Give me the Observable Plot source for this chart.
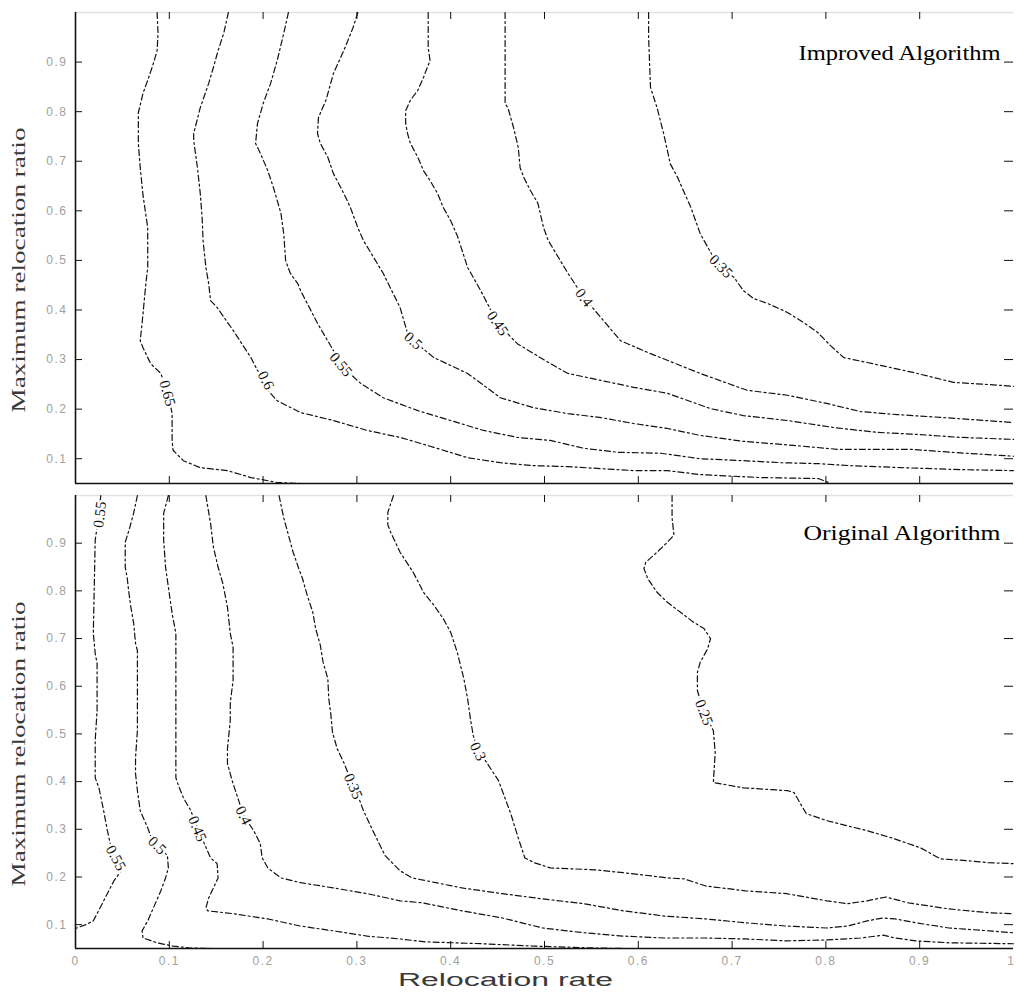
<!DOCTYPE html>
<html><head><meta charset="utf-8">
<script src="https://cdn.jsdelivr.net/npm/d3@7"></script>
<script src="https://cdn.jsdelivr.net/npm/@observablehq/plot@0.6"></script>
<style>
body{margin:0;background:#fff;}
#wrap{position:relative;width:1016px;height:992px;overflow:hidden;background:#fff;}
#top{position:absolute;left:0;top:0;}
#bottom{position:absolute;left:0;top:490px;}
#wrap g[aria-label="y-axis tick label"], #wrap g[aria-label="x-axis tick label"]{fill:#a0a0a0;letter-spacing:1.5px;}
</style></head><body><div id="wrap"><div id="top"></div><div id="bottom"></div></div>
<script>
// ---------- Data: contour lines, [relocation rate, maximum relocation ratio] ----------
const xTickValues = [0,0.1,0.2,0.3,0.4,0.5,0.6,0.7,0.8,0.9,1];
const yTickValues = [0.1,0.2,0.3,0.4,0.5,0.6,0.7,0.8,0.9];

// Improved Algorithm
const improved065 = [[0.087,1.0],[0.088,0.958],[0.087,0.923],[0.083,0.897],[0.078,0.869],[0.072,0.837],[0.067,0.798],[0.067,0.736],[0.069,0.687],[0.072,0.631],[0.077,0.566],[0.077,0.486],[0.075,0.453],[0.071,0.373],[0.069,0.338],[0.072,0.324],[0.080,0.292],[0.091,0.272],[0.099,0.228],[0.103,0.191],[0.103,0.137],[0.104,0.117],[0.115,0.096],[0.133,0.082],[0.162,0.076],[0.187,0.062],[0.215,0.052],[0.240,0.050]];
const improved060 = [[0.163,1.0],[0.158,0.958],[0.152,0.923],[0.147,0.889],[0.142,0.857],[0.133,0.808],[0.126,0.756],[0.126,0.742],[0.130,0.687],[0.133,0.635],[0.135,0.587],[0.136,0.540],[0.139,0.486],[0.142,0.453],[0.144,0.419],[0.151,0.405],[0.168,0.359],[0.187,0.304],[0.194,0.278],[0.203,0.258],[0.205,0.238],[0.215,0.217],[0.240,0.193],[0.275,0.177],[0.311,0.157],[0.346,0.143],[0.382,0.123],[0.418,0.102],[0.453,0.092],[0.488,0.086],[0.525,0.084],[0.560,0.080],[0.595,0.076],[0.631,0.076],[0.666,0.068],[0.730,0.062],[0.792,0.060],[0.805,0.050]];
const improved055 = [[0.227,1.0],[0.222,0.958],[0.215,0.903],[0.208,0.857],[0.200,0.816],[0.194,0.776],[0.192,0.736],[0.197,0.716],[0.205,0.681],[0.211,0.647],[0.215,0.621],[0.219,0.595],[0.222,0.554],[0.224,0.500],[0.229,0.474],[0.237,0.453],[0.240,0.439],[0.258,0.373],[0.275,0.318],[0.283,0.288],[0.304,0.252],[0.328,0.223],[0.365,0.197],[0.400,0.177],[0.435,0.157],[0.471,0.143],[0.506,0.137],[0.542,0.121],[0.578,0.113],[0.624,0.111],[0.666,0.100],[0.712,0.096],[0.752,0.092],[0.792,0.090],[0.826,0.086],[0.880,0.082],[0.943,0.078],[1.0,0.076]];
const improved050 = [[0.301,1.0],[0.296,0.970],[0.286,0.923],[0.275,0.877],[0.267,0.823],[0.259,0.788],[0.258,0.756],[0.261,0.736],[0.269,0.708],[0.275,0.675],[0.286,0.635],[0.293,0.607],[0.301,0.566],[0.307,0.540],[0.328,0.474],[0.346,0.405],[0.354,0.353],[0.360,0.338],[0.382,0.304],[0.418,0.272],[0.453,0.223],[0.488,0.203],[0.525,0.191],[0.560,0.183],[0.595,0.171],[0.631,0.161],[0.666,0.147],[0.712,0.135],[0.765,0.127],[0.812,0.119],[0.890,0.119],[0.933,0.113],[1.0,0.105]];
const improved045 = [[0.376,1.0],[0.376,0.929],[0.378,0.903],[0.375,0.889],[0.371,0.869],[0.365,0.843],[0.357,0.823],[0.352,0.802],[0.352,0.776],[0.354,0.756],[0.357,0.736],[0.365,0.708],[0.371,0.681],[0.378,0.661],[0.386,0.635],[0.392,0.607],[0.400,0.580],[0.407,0.550],[0.418,0.486],[0.432,0.439],[0.450,0.373],[0.471,0.332],[0.506,0.292],[0.525,0.272],[0.560,0.258],[0.595,0.244],[0.631,0.232],[0.677,0.201],[0.712,0.187],[0.759,0.177],[0.808,0.163],[0.855,0.153],[0.898,0.149],[0.943,0.143],[1.0,0.139]];
const improved040 = [[0.458,1.0],[0.458,0.816],[0.461,0.808],[0.467,0.768],[0.472,0.728],[0.474,0.687],[0.478,0.667],[0.485,0.641],[0.493,0.615],[0.499,0.566],[0.504,0.540],[0.525,0.474],[0.542,0.425],[0.560,0.385],[0.581,0.338],[0.613,0.312],[0.666,0.272],[0.716,0.238],[0.759,0.228],[0.802,0.211],[0.837,0.195],[0.876,0.189],[0.925,0.183],[1.0,0.173]];
const improved035 = [[0.611,1.0],[0.611,0.950],[0.613,0.849],[0.620,0.808],[0.627,0.756],[0.631,0.722],[0.634,0.695],[0.642,0.667],[0.648,0.641],[0.656,0.607],[0.666,0.554],[0.679,0.510],[0.691,0.480],[0.702,0.466],[0.712,0.439],[0.723,0.423],[0.738,0.413],[0.759,0.395],[0.776,0.375],[0.791,0.355],[0.805,0.328],[0.819,0.304],[0.844,0.294],[0.893,0.274],[0.936,0.254],[0.986,0.248],[1.0,0.246]];
const improvedLabels = [
  {level:"0.65", x:0.098, y:0.232},
  {level:"0.6",  x:0.203, y:0.258},
  {level:"0.55", x:0.283, y:0.290},
  {level:"0.5",  x:0.360, y:0.338},
  {level:"0.45", x:0.450, y:0.373},
  {level:"0.4",  x:0.542, y:0.425},
  {level:"0.35", x:0.688, y:0.488}
];

// Original Algorithm
const original055 = [[0.027,1.0],[0.023,0.934],[0.021,0.906],[0.019,0.711],[0.021,0.669],[0.023,0.648],[0.023,0.549],[0.021,0.486],[0.021,0.408],[0.025,0.387],[0.030,0.339],[0.034,0.297],[0.037,0.270],[0.043,0.238],[0.051,0.219],[0.041,0.192],[0.030,0.150],[0.019,0.108],[0.011,0.100],[0.0,0.092]];
const original050 = [[0.066,1.0],[0.062,0.963],[0.057,0.927],[0.053,0.902],[0.053,0.850],[0.055,0.829],[0.057,0.795],[0.059,0.766],[0.062,0.732],[0.064,0.690],[0.066,0.675],[0.066,0.507],[0.064,0.450],[0.064,0.417],[0.066,0.381],[0.069,0.339],[0.077,0.303],[0.082,0.276],[0.087,0.266],[0.098,0.245],[0.099,0.219],[0.096,0.198],[0.091,0.171],[0.083,0.135],[0.077,0.108],[0.071,0.087],[0.072,0.072],[0.087,0.062],[0.104,0.055],[0.123,0.051],[0.144,0.050]];
const original045 = [[0.099,1.0],[0.094,0.963],[0.094,0.906],[0.096,0.850],[0.099,0.808],[0.103,0.753],[0.107,0.711],[0.107,0.570],[0.107,0.486],[0.107,0.408],[0.109,0.396],[0.115,0.366],[0.123,0.339],[0.130,0.301],[0.136,0.276],[0.144,0.240],[0.151,0.228],[0.152,0.198],[0.147,0.177],[0.142,0.156],[0.139,0.135],[0.141,0.129],[0.168,0.123],[0.205,0.112],[0.240,0.097],[0.275,0.087],[0.311,0.076],[0.346,0.070],[0.373,0.064],[0.433,0.060],[0.489,0.055],[0.554,0.051],[0.585,0.050]];
const original040 = [[0.139,1.0],[0.141,0.976],[0.144,0.942],[0.147,0.892],[0.152,0.850],[0.157,0.816],[0.162,0.766],[0.165,0.711],[0.168,0.682],[0.168,0.612],[0.165,0.566],[0.165,0.528],[0.162,0.469],[0.162,0.438],[0.167,0.402],[0.174,0.360],[0.179,0.329],[0.190,0.297],[0.197,0.270],[0.199,0.240],[0.205,0.219],[0.219,0.198],[0.240,0.188],[0.275,0.177],[0.311,0.165],[0.346,0.150],[0.369,0.146],[0.412,0.129],[0.455,0.114],[0.498,0.093],[0.542,0.083],[0.584,0.076],[0.628,0.072],[0.672,0.072],[0.714,0.070],[0.758,0.066],[0.801,0.068],[0.837,0.072],[0.861,0.078],[0.874,0.072],[0.896,0.066],[0.931,0.062],[1.0,0.060]];
const original035 = [[0.217,1.0],[0.222,0.953],[0.227,0.917],[0.232,0.881],[0.238,0.847],[0.242,0.826],[0.247,0.791],[0.253,0.755],[0.256,0.721],[0.261,0.686],[0.264,0.650],[0.269,0.616],[0.270,0.574],[0.272,0.545],[0.274,0.503],[0.279,0.469],[0.286,0.440],[0.293,0.406],[0.301,0.371],[0.307,0.339],[0.317,0.297],[0.330,0.245],[0.346,0.213],[0.359,0.198],[0.412,0.177],[0.455,0.165],[0.498,0.154],[0.542,0.144],[0.584,0.129],[0.628,0.118],[0.672,0.112],[0.714,0.104],[0.758,0.097],[0.801,0.093],[0.823,0.097],[0.844,0.108],[0.861,0.114],[0.874,0.112],[0.896,0.104],[0.931,0.093],[0.974,0.087],[1.0,0.083]];
const original030 = [[0.339,1.0],[0.333,0.965],[0.333,0.938],[0.336,0.923],[0.346,0.881],[0.360,0.839],[0.371,0.797],[0.382,0.770],[0.392,0.742],[0.400,0.713],[0.407,0.671],[0.414,0.616],[0.418,0.574],[0.421,0.532],[0.424,0.497],[0.429,0.465],[0.437,0.444],[0.451,0.402],[0.464,0.333],[0.472,0.282],[0.479,0.240],[0.489,0.230],[0.506,0.219],[0.554,0.215],[0.584,0.209],[0.632,0.198],[0.649,0.196],[0.672,0.181],[0.714,0.171],[0.758,0.165],[0.801,0.150],[0.823,0.144],[0.844,0.150],[0.864,0.158],[0.887,0.146],[0.931,0.133],[0.974,0.125],[1.0,0.123]];
const original025 = [[0.636,1.0],[0.636,0.953],[0.638,0.917],[0.631,0.902],[0.620,0.881],[0.608,0.860],[0.606,0.847],[0.610,0.826],[0.620,0.797],[0.631,0.776],[0.645,0.755],[0.659,0.734],[0.670,0.721],[0.677,0.700],[0.674,0.679],[0.666,0.650],[0.663,0.629],[0.663,0.591],[0.670,0.545],[0.680,0.507],[0.682,0.461],[0.680,0.398],[0.712,0.387],[0.759,0.381],[0.766,0.377],[0.779,0.333],[0.801,0.318],[0.844,0.297],[0.870,0.282],[0.901,0.261],[0.922,0.238],[0.952,0.234],[0.973,0.230],[1.0,0.228]];
const originalLabels = [
  {level:"0.55", x:0.026, y:0.960},
  {level:"0.55", x:0.043, y:0.240},
  {level:"0.5",  x:0.087, y:0.266},
  {level:"0.45", x:0.130, y:0.301},
  {level:"0.4",  x:0.179, y:0.329},
  {level:"0.35", x:0.296, y:0.390},
  {level:"0.3",  x:0.429, y:0.463},
  {level:"0.25", x:0.670, y:0.545}
];

const improvedLines = [["0.65",improved065],["0.6",improved060],["0.55",improved055],["0.5",improved050],["0.45",improved045],["0.4",improved040],["0.35",improved035]];
const originalLines = [["0.55",original055],["0.5",original050],["0.45",original045],["0.4",original040],["0.35",original035],["0.3",original030],["0.25",original025]];

// ---------- Drawing ----------
const W = 1016, ML = 75, MR = 3;
const PW = W - ML - MR;
const yDomain = [0.05, 1.0];

function rowsOf(lines){
  return lines.flatMap(([level, pts]) => pts.map(([x,y]) => ({level, x, y})));
}
function labelRows(lines, labels, H){
  const sx = PW, sy = H / (yDomain[1]-yDomain[0]);
  return labels.map(l => {
    let best = null;
    for (const [level, pts] of lines) {
      if (level !== l.level) continue;
      pts.forEach((p, i) => {
        const d = Math.hypot((p[0]-l.x)*sx, (p[1]-l.y)*sy);
        if (!best || d < best.d) best = {d, pts, i};
      });
    }
    const pts = best.pts, i = best.i;
    const a = pts[Math.max(0,i-1)], b = pts[Math.min(pts.length-1,i+1)];
    let ang = Math.atan2(-(b[1]-a[1])*sy, (b[0]-a[0])*sx) * 180/Math.PI;
    if (ang > 90) ang -= 180;
    if (ang < -90) ang += 180;
    return {...l, angle: ang};
  });
}
function fmt(d){ return d === 0 ? "0" : d === 1 ? "1" : d.toFixed(1); }

function panel({lines, labels, title, titleDy, height, marginTop, marginBottom, showX, ylabelDy}){
  const H = height - marginTop - marginBottom;
  const inner = xTickValues.filter(d => d > 0 && d < 1);
  const marks = [
    Plot.ruleY([yDomain[1]], {stroke:"#e2e2e2", strokeWidth:1.5}),
    Plot.line(rowsOf(lines), {x:"x", y:"y", z:"level", stroke:"#111", strokeWidth:1.2, strokeDasharray:"6,3,2,3"}),
    Plot.text(labelRows(lines, labels, H), {x:"x", y:"y", text:"level", rotate:"angle", fontSize:15, fontFamily:"Liberation Serif", fill:"#111", stroke:"white", strokeWidth:5}),
    Plot.ruleX(inner, {insetTop: H-7, stroke:"#111"}),
    Plot.ruleX(inner, {insetBottom: H-7, stroke:"#111"}),
    Plot.ruleY(yTickValues, {insetRight: PW-7, stroke:"#111"}),
    Plot.ruleY(yTickValues, {insetLeft: PW-9, stroke:"#111"}),
    Plot.ruleX([0], {stroke:"#111", strokeWidth:1.6}),
    Plot.ruleY([yDomain[0]], {stroke:"#111", strokeWidth:1.6}),
    Plot.axisY({ticks: yTickValues, tickSize:0, tickPadding:8, tickFormat: fmt, fontSize:12, fill:"#a0a0a0", label:null}),
    Plot.text([title], {frameAnchor:"top-right", textAnchor:"end", lineAnchor:"middle", dx:-13, dy:titleDy, fontSize:22, fontFamily:"Liberation Serif", fill:"#000"}),
    Plot.text(["Maximum relocation ratio"], {frameAnchor:"left", rotate:-90, textAnchor:"middle", lineAnchor:"middle", dx:-56, dy:ylabelDy, fontSize:18, fontFamily:"Liberation Serif", fill:"#3a3a3a"})
  ];
  if (showX) {
    marks.push(Plot.axisX({ticks: xTickValues.filter(d => d < 1), tickSize:0, tickPadding:8, tickFormat: fmt, fontSize:12, fill:"#a0a0a0", label:null}));
    marks.push(Plot.axisX({ticks: [1], tickSize:0, tickPadding:8, tickFormat: fmt, fontSize:12, fill:"#a0a0a0", textAnchor:"end", dx:2, label:null}));
    marks.push(Plot.text(["Relocation rate"], {frameAnchor:"bottom", lineAnchor:"middle", dx:-39, dy:32, fontSize:18, fontFamily:"Liberation Sans", fill:"#3a3a3a"}));
  }
  return Plot.plot({
    width: W, height, marginLeft: ML, marginRight: MR, marginTop, marginBottom,
    style: {fontFamily:"Liberation Sans", background:"white", overflow:"visible"},
    x: {domain:[0,1], label:null, ...(showX ? {} : {axis:null})},
    y: {domain: yDomain, label:null},
    marks
  });
}

const topChart = panel({lines: improvedLines, labels: improvedLabels, title:"Improved Algorithm", titleDy:40, height:490, marginTop:12, marginBottom:7, showX:false, ylabelDy:22});
const bottomChart = panel({lines: originalLines, labels: originalLabels, title:"Original Algorithm", titleDy:37, height:502, marginTop:5, marginBottom:44, showX:true, ylabelDy:22});
document.getElementById("top").appendChild(topChart);
document.getElementById("bottom").appendChild(bottomChart);

// stretch axis titles to the reference widths
for (const svg of [topChart, bottomChart]) {
  svg.querySelectorAll("text").forEach(t => {
    const s = t.textContent;
    if (s === "Maximum relocation ratio") { t.setAttribute("textLength", 285); t.setAttribute("lengthAdjust", "spacingAndGlyphs"); }
    if (s === "Relocation rate") { t.setAttribute("textLength", 215); t.setAttribute("lengthAdjust", "spacingAndGlyphs"); }
    if (s === "Improved Algorithm" || s === "Original Algorithm") { t.setAttribute("textLength", s.startsWith("I") ? 202 : 197); t.setAttribute("lengthAdjust", "spacingAndGlyphs"); }
  });
}
</script></body></html>
